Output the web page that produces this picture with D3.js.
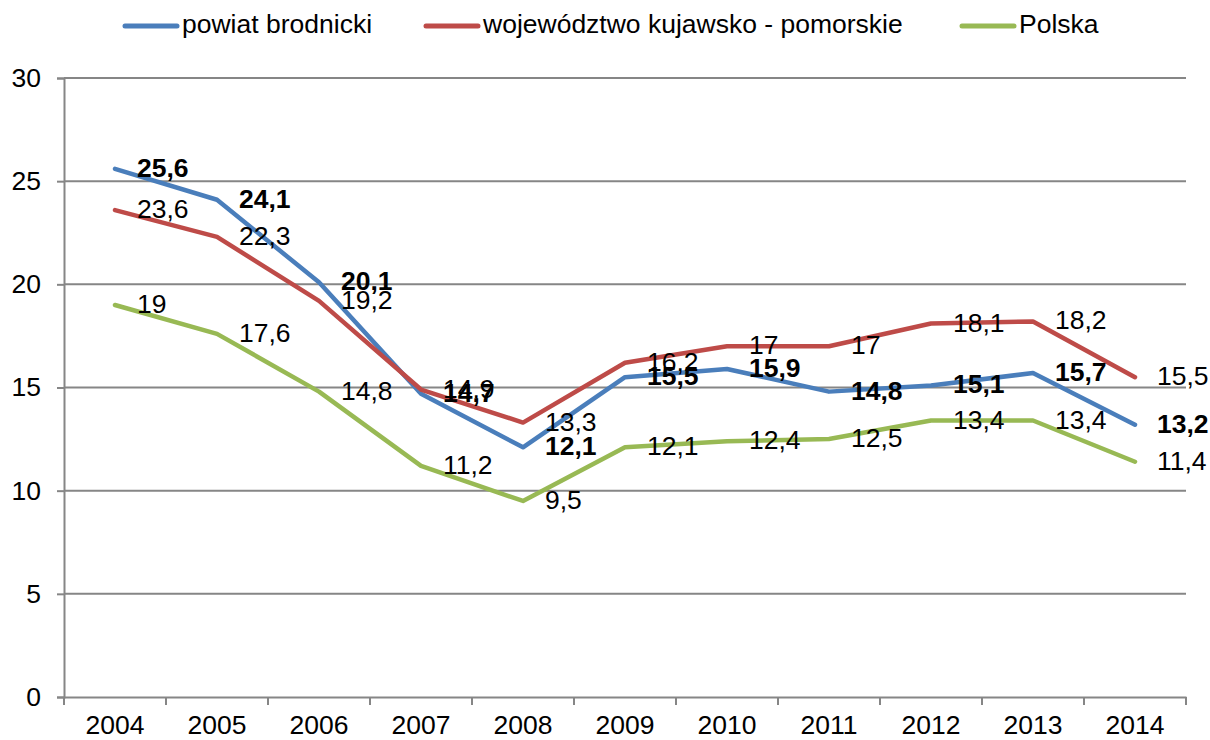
<!DOCTYPE html>
<html><head><meta charset="utf-8">
<script src="https://cdn.jsdelivr.net/npm/d3@7"></script>
<style>
body{margin:0;background:#fff;}
text{font-family:"Liberation Sans",Arial,sans-serif;}
</style></head>
<body><svg id="c" width="1210" height="740"></svg>
<script>
const years = ["2004","2005","2006","2007","2008","2009","2010","2011","2012","2013","2014"];
const powiat = [25.6,24.1,20.1,14.7,12.1,15.5,15.9,14.8,15.1,15.7,13.2];
const wojewodztwo = [23.6,22.3,19.2,14.9,13.3,16.2,17,17,18.1,18.2,15.5];
const polska = [19,17.6,14.8,11.2,9.5,12.1,12.4,12.5,13.4,13.4,11.4];
const yTicks = [0,5,10,15,20,25,30];
const seriesNames = ["powiat brodnicki","województwo kujawsko - pomorskie","Polska"];
const seriesColors = ["#4A7EBB","#BE4B48","#98B954"];
const seriesBold = [true,false,false];

const svg = d3.select("#c");
const L=64,R=1186,T=78,B=697;
const x = d3.scaleBand().domain(years).range([L,R]);
const y = d3.scaleLinear().domain([0,30]).range([B,T]);
const grid="#868686";
const fs=26.5;

svg.append("g").selectAll("line").data(yTicks.filter(d=>d>0)).join("line")
 .attr("x1",L).attr("x2",R).attr("y1",d=>y(d)).attr("y2",d=>y(d))
 .attr("stroke",grid).attr("stroke-width",2);

const ya = svg.append("g").attr("transform",`translate(${L},0)`)
 .call(d3.axisLeft(y).tickValues(yTicks).tickSize(7).tickPadding(16).tickFormat(d3.format("d")));
ya.select(".domain").attr("stroke",grid).attr("stroke-width",2);
ya.selectAll(".tick line").attr("stroke",grid).attr("stroke-width",2);
ya.selectAll(".tick text").attr("font-size",fs).attr("fill","#000").attr("font-family","Liberation Sans, Arial, sans-serif");

const xa = svg.append("g").attr("transform",`translate(0,${B})`)
 .call(d3.axisBottom(x).tickSize(0).tickPadding(18));
xa.select(".domain").attr("stroke",grid).attr("stroke-width",2);
xa.selectAll(".tick text").attr("font-size",fs).attr("fill","#000").attr("font-family","Liberation Sans, Arial, sans-serif");
const bounds = years.map(d=>x(d)).concat([R]);
svg.append("g").selectAll("line").data(bounds).join("line")
 .attr("x1",d=>d).attr("x2",d=>d).attr("y1",B).attr("y2",B+8)
 .attr("stroke",grid).attr("stroke-width",2);

const allSeries=[powiat,wojewodztwo,polska];
const cx = d=>x(d)+x.bandwidth()/2;
const line = d3.line().x((v,i)=>cx(years[i])).y(v=>y(v));
allSeries.forEach((s,k)=>{
  svg.append("path").datum(s).attr("d",line).attr("fill","none")
   .attr("stroke",seriesColors[k]).attr("stroke-width",4.5).attr("stroke-linejoin","round").attr("stroke-linecap","round");
});
const fmt = v=>String(v).replace(".",",");
allSeries.forEach((s,k)=>{
  svg.append("g").selectAll("text").data(s).join("text")
   .attr("x",(v,i)=>cx(years[i])+22).attr("y",v=>y(v)+1)
   .attr("dominant-baseline","middle").attr("font-size",fs)
   .attr("font-weight",seriesBold[k]?"bold":"normal").attr("fill","#000")
   .text(fmt);
});

const legX=[125,426,962];
const lg = svg.append("g");
seriesNames.forEach((n,k)=>{
  lg.append("line").attr("x1",legX[k]).attr("x2",legX[k]+52).attr("y1",26).attr("y2",26)
   .attr("stroke",seriesColors[k]).attr("stroke-width",5).attr("stroke-linecap","round");
  lg.append("text").attr("x",legX[k]+57).attr("y",26).attr("dominant-baseline","middle")
   .attr("font-size",fs).attr("fill","#000").text(n);
});
</script></body></html>
